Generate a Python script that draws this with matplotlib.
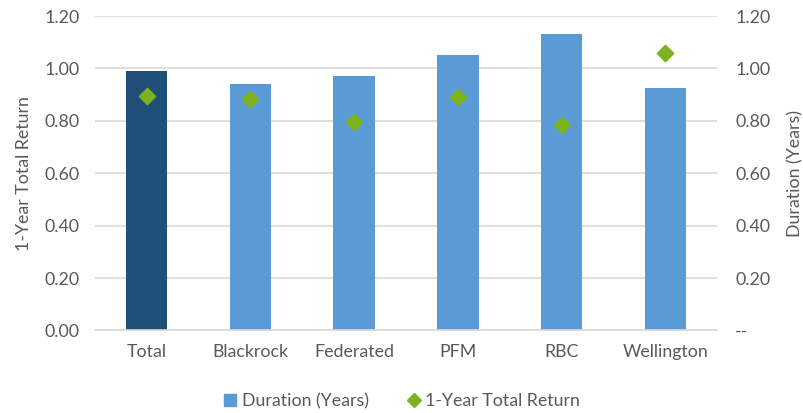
import numpy as np
import matplotlib.pyplot as plt
from matplotlib.lines import Line2D
from matplotlib.patches import Patch

plt.rcParams['font.family'] = ['Lato', 'DejaVu Sans']

# data
managers = ['Total', 'Blackrock', 'Federated', 'PFM', 'RBC', 'Wellington']
duration = [0.99, 0.94, 0.97, 1.05, 1.13, 0.925]
total_return = [0.894, 0.883, 0.797, 0.890, 0.786, 1.058]
ticks = [0.0, 0.2, 0.4, 0.6, 0.8, 1.0, 1.2]

text_col = '#595959'
grid_col = '#D9D9D9'
bar_cols = ['#1F4E79'] + ['#5B9BD5'] * (len(managers) - 1)
green = '#7CB21B'
fs = 12.8

fig = plt.figure(figsize=(8.04, 4.13), dpi=100)
ax = fig.add_axes([0.118, 0.2, 0.774, 0.761])
ax2 = ax.twinx()

x = np.arange(len(managers))
ax2.bar(x, duration, width=0.4, color=bar_cols, zorder=2)
ax.scatter(x, total_return, marker='D', s=70, color=green, zorder=5)

# put the return axis on top so diamonds sit above bars
ax.set_zorder(ax2.get_zorder() + 1)
ax.patch.set_visible(False)

for a in (ax, ax2):
    a.set_ylim(0, 1.2)
    a.set_yticks(ticks)
    a.set_xlim(-0.5, len(managers) - 0.5)
    for s in a.spines.values():
        s.set_visible(False)
    a.tick_params(length=0, labelsize=fs, colors=text_col)

ax.spines['bottom'].set_visible(True)
ax.spines['bottom'].set_color(grid_col)
ax.spines['bottom'].set_linewidth(1.2)
ax.set_yticklabels([f'{t:.2f}' for t in ticks])
ax2.set_yticklabels(['--'] + [f'{t:.2f}' for t in ticks[1:]])
ax.tick_params(axis='y', pad=11)
ax2.tick_params(axis='y', pad=13)
ax.tick_params(axis='x', pad=10)
ax.set_xticks(x)
ax.set_xticklabels(managers)

# gridlines drawn on the bar axis, behind the bars
ax2.yaxis.grid(True, color=grid_col, linewidth=1.2, zorder=0)
ax2.set_axisbelow(True)

ax.set_ylabel('1-Year Total Return', fontsize=fs, color=text_col, labelpad=9)
ax2.set_ylabel('Duration (Years)', fontsize=fs, color=text_col, labelpad=12)

handles = [Patch(color='#5B9BD5', label='Duration (Years)'),
           Line2D([], [], marker='D', color=green, linestyle='none', markersize=7,
                  label='1-Year Total Return')]
leg = fig.legend(handles=handles, loc='center', bbox_to_anchor=(0.5, 0.028),
                 ncol=2, frameon=False, fontsize=fs, handlelength=0.7,
                 handletextpad=0.3, columnspacing=2.2)
for t in leg.get_texts():
    t.set_color(text_col)

fig.savefig('out.png', dpi=100)
